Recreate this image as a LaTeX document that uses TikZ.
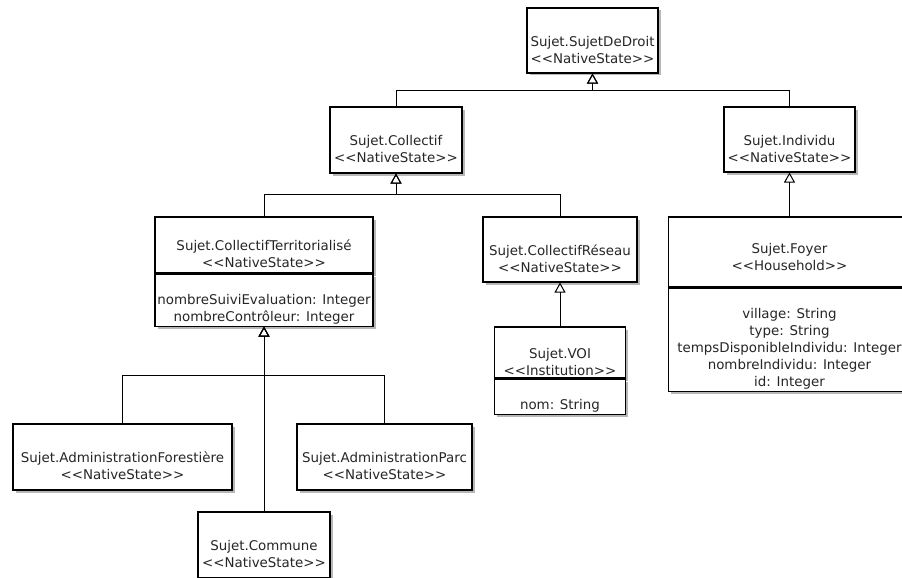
\documentclass[tikz,border=0pt]{standalone}
\usepackage{fontspec}
\usepackage{tikz}
\usetikzlibrary{arrows.meta,shapes,shadows,positioning}
\newfontfamily\umlfont{DejaVu Sans}
\newcommand\umlgap{\mbox{}\\[12pt]}
\tikzset{
  umlclass/.style={draw, fill=white, line width=1.1pt, align=center, inner sep=0pt,
    font=\umlfont\fontsize{13.4}{17}\selectfont, text=black!85,
    drop shadow={shadow xshift=2.5pt, shadow yshift=-2.5pt, fill=black!40, opacity=0.7}},
  isa/.style={line width=1pt, -{Triangle[open, length=10pt, width=11pt]}}
}
\begin{document}
\begin{tikzpicture}[x=1pt, y=-1pt]
  \useasboundingbox[fill=white] (0,0) rectangle (902,578);
  \clip (0,0) rectangle (902,578);
  \node[umlclass, minimum width=131pt, minimum height=65pt] (droit) at (592.5,40.5) {\umlgap Sujet.SujetDeDroit\\<<NativeState>>};
  \node[umlclass, minimum width=132pt, minimum height=66pt] (coll) at (396,140) {\umlgap Sujet.Collectif\\<<NativeState>>};
  \node[umlclass, minimum width=131pt, minimum height=65pt] (indiv) at (789.5,139.5) {\umlgap Sujet.Individu\\<<NativeState>>};
  \node[umlclass, minimum width=218pt, minimum height=56pt] (terr) at (264,245) {\umlgap Sujet.CollectifTerritorialisé\\<<NativeState>>};
  \node[umlclass, minimum width=218pt, minimum height=52pt, below=0pt of terr] (terr-attr) {\umlgap nombreSuiviEvaluation: Integer\\nombreContrôleur: Integer};
  \node[umlclass, minimum width=154pt, minimum height=65pt] (reseau) at (560,249.5) {\umlgap Sujet.CollectifRéseau\\<<NativeState>>};
  \node[umlclass, minimum width=131pt, minimum height=51pt] (voi) at (560,352.5) {\umlgap Sujet.VOI\\<<Institution>>};
  \node[umlclass, minimum width=131pt, minimum height=35pt, below=0pt of voi] (voi-attr) {\umlgap nom: String};
  \node[umlclass, minimum width=242pt, minimum height=70pt] (foyer) at (789.5,252) {\mbox{}\\[4pt]Sujet.Foyer\\<<Household>>};
  \node[umlclass, minimum width=242pt, minimum height=103pt, below=0pt of foyer] (foyer-attr) {\umlgap village: String\\type: String\\tempsDisponibleIndividu: Integer\\nombreIndividu: Integer\\id: Integer};
  \node[umlclass, minimum width=219pt, minimum height=66pt] (forest) at (122.5,457) {\umlgap Sujet.AdministrationForestière\\<<NativeState>>};
  \node[umlclass, minimum width=175pt, minimum height=66pt] (parc) at (384.5,457) {\umlgap Sujet.AdministrationParc\\<<NativeState>>};
  \node[umlclass, minimum width=132pt, minimum height=66pt] (commune) at (264,545) {\umlgap Sujet.Commune\\<<NativeState>>};

  \coordinate (droit-bar) at (592.5,90);
  \coordinate (coll-bar) at (396,194);
  \coordinate (terr-bar) at (264,375);

  \draw[isa] (coll.north) |- (droit-bar) -- (droit.south);
  \draw[isa] (indiv.north) |- (droit-bar) -- (droit.south);
  \draw[isa] (terr.north) |- (coll-bar) -- (coll.south);
  \draw[isa] (reseau.north) |- (coll-bar) -- (coll.south);
  \draw[isa] (voi.north) -- (reseau.south);
  \draw[isa] (foyer.north) -- (indiv.south);
  \draw[isa] (forest.north) |- (terr-bar) -- (terr-attr.south);
  \draw[isa] (parc.north) |- (terr-bar) -- (terr-attr.south);
  \draw[isa] (commune.north) -- (terr-attr.south);
\end{tikzpicture}
\end{document}
